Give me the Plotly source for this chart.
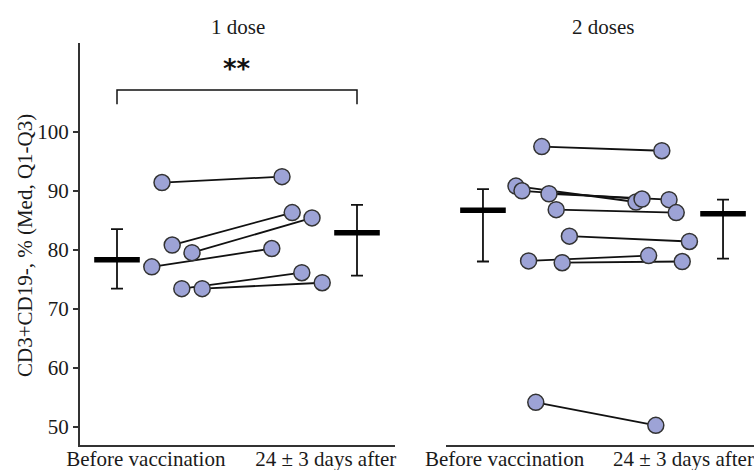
import plotly.graph_objects as go

# ---------------- data ----------------
panels = ["1 dose", "2 doses"]
x_labels = ["Before vaccination", "24 ± 3 days after"]

# 1 dose: paired values (before, after) and horizontal jitter of each subject
dose1_before = [91.4, 80.8, 79.5, 77.1, 73.4, 73.4]
dose1_after = [92.4, 86.3, 85.4, 80.2, 76.1, 74.4]
dose1_jitter = [-0.125, -0.04, 0.125, -0.21, 0.04, 0.21]

# 2 doses
dose2_before = [97.5, 90.8, 90.0, 89.5, 86.8, 82.3, 78.1, 77.8, 54.1]
dose2_after = [96.8, 88.1, 88.6, 88.5, 86.3, 81.4, 79.0, 78.0, 50.2]
dose2_jitter = [-0.01, -0.225, -0.175, 0.05, 0.11, 0.22, -0.12, 0.16, -0.06]

# summaries: median, Q1, Q3 for before / after
dose1_summary = {"before": (78.3, 73.4, 83.5), "after": (82.9, 75.6, 87.6)}
dose2_summary = {"before": (86.7, 78.0, 90.3), "after": (86.1, 78.5, 88.5)}

significance = "**"
y_title = "CD3+CD19-, % (Med, Q1-Q3)"
y_ticks = [50, 60, 70, 80, 90, 100]

# ---------------- styling ----------------
W, H = 754, 470
FONT = "Liberation Serif, Times New Roman, serif"
MARK = "#9da3d6"
EDGE = "#333333"
AX = "#333333"
TXT = "#1a1a1a"

fig = go.Figure()


def add_panel(before, after, jitter, summary, xa, ya):
    # connecting lines
    lx, ly = [], []
    for b, a, j in zip(before, after, jitter):
        lx += [1 + j, 2 + j, None]
        ly += [b, a, None]
    fig.add_trace(go.Scatter(x=lx, y=ly, mode="lines",
                             line=dict(color="#111111", width=1.8),
                             xaxis=xa, yaxis=ya, hoverinfo="skip"))
    # points
    px, py = [], []
    for b, a, j in zip(before, after, jitter):
        px += [1 + j, 2 + j]
        py += [b, a]
    fig.add_trace(go.Scatter(x=px, y=py, mode="markers",
                             marker=dict(size=16, color=MARK,
                                         line=dict(color=EDGE, width=1.5)),
                             xaxis=xa, yaxis=ya))
    # median + IQR
    for key, xpos in (("before", 0.5), ("after", 2.5)):
        med, q1, q3 = summary[key]
        fig.add_trace(go.Scatter(x=[xpos], y=[med], mode="markers",
                                 marker=dict(size=1, color="rgba(0,0,0,0)"),
                                 error_y=dict(type="data", symmetric=False,
                                              array=[q3 - med], arrayminus=[med - q1],
                                              color="#111111", thickness=1.8, width=6),
                                 xaxis=xa, yaxis=ya))
        fig.add_trace(go.Scatter(x=[xpos - 0.19, xpos + 0.19], y=[med, med],
                                 mode="lines", line=dict(color="#000000", width=5.5),
                                 xaxis=xa, yaxis=ya))


add_panel(dose1_before, dose1_after, dose1_jitter, dose1_summary, "x", "y")
add_panel(dose2_before, dose2_after, dose2_jitter, dose2_summary, "x2", "y2")

# significance bracket (left panel)
br_y, br_tip = 107.1, 104.7
fig.add_trace(go.Scatter(x=[0.5, 0.5, 2.5, 2.5], y=[br_tip, br_y, br_y, br_tip],
                         mode="lines", line=dict(color="#111111", width=1.5),
                         xaxis="x", yaxis="y"))
fig.add_annotation(x=1.5, y=110.6, xref="x", yref="y", text="<b>" + significance + "</b>",
                   showarrow=False, font=dict(family="DejaVu Sans", size=26, color="#111111"),
                   yanchor="middle")

y_range = [46.95, 115.08]
ydom = [(H - 444.5) / H, (H - 43) / H]

axis_font = dict(family=FONT, size=21, color=TXT)

fig.update_layout(
    width=W, height=H, margin=dict(l=0, r=0, t=0, b=0, autoexpand=False),
    paper_bgcolor="white", plot_bgcolor="white", showlegend=False,
    xaxis=dict(domain=[80 / W, 395 / W], range=[0.1917, 2.8167], automargin=False,
               tickvals=[0.74, 2.24], ticktext=x_labels, ticks="",
               ticklabelstandoff=-6,
               showline=True, linecolor=AX, linewidth=2, showgrid=False,
               zeroline=False, tickfont=axis_font),
    xaxis2=dict(domain=[446 / W, 1.0], range=[0.192, 2.758], automargin=False,
                tickvals=[0.68, 2.17], ticktext=x_labels, ticks="",
                ticklabelstandoff=-6,
                showline=True, linecolor=AX, linewidth=2, showgrid=False,
                zeroline=False, tickfont=axis_font, anchor="y2"),
    yaxis=dict(domain=ydom, range=y_range, tickvals=y_ticks, automargin=False,
               ticks="outside", ticklen=5, tickwidth=1.5, tickcolor=AX,
               showline=True, linecolor=AX, linewidth=2, showgrid=False,
               zeroline=False, tickfont=axis_font),
    yaxis2=dict(domain=ydom, range=y_range, showticklabels=False, ticks="",
                automargin=False,
                showline=False, showgrid=False, zeroline=False, anchor="x2"),
)

# y-axis title
fig.add_annotation(x=25 / W, y=(H - 246) / H, xref="paper", yref="paper",
                   text=y_title, textangle=-90, showarrow=False,
                   xanchor="center", yanchor="middle",
                   font=dict(family=FONT, size=21, color=TXT))

# panel titles
for name, cx in zip(panels, [237.5, 603]):
    fig.add_annotation(x=cx / W, y=(H - 27) / H, xref="paper", yref="paper",
                       text=name, showarrow=False, xanchor="center", yanchor="middle",
                       font=dict(family=FONT, size=21, color=TXT))

fig.write_html("out.html")
